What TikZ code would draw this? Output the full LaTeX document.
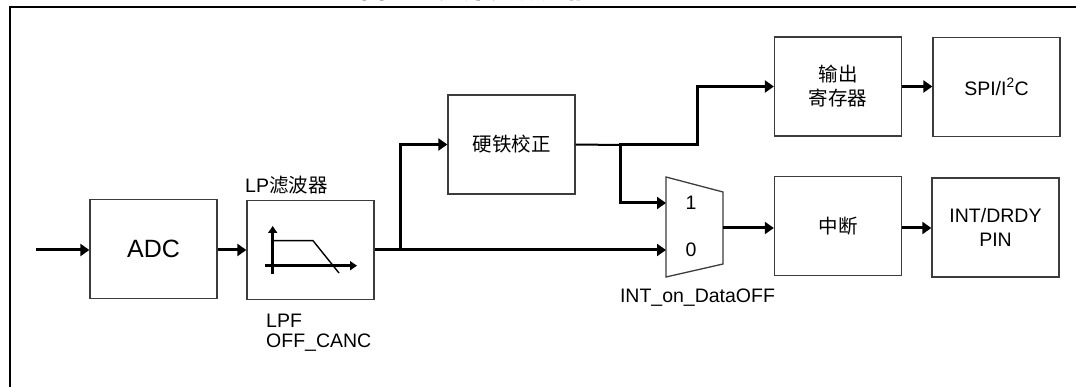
\documentclass[tikz,border=0pt]{standalone}
\usepackage{fontspec}
\setmainfont{Liberation Sans}
\newfontfamily\cjk{Noto Sans CJK SC}
\usepackage{tikz}
\usetikzlibrary{arrows.meta,positioning,calc}
\usepackage{xcolor}
\definecolor{boxcol}{RGB}{60,60,60}
\definecolor{wirecol}{RGB}{0,0,0}
\tikzset{
  % block with a label
  blk/.style={rectangle, draw=boxcol, line width=1.3pt, fill=white,
              minimum width=127pt, minimum height=99pt, inner sep=2pt,
              align=center, font=\fontsize{19.5}{24}\selectfont},
  % signal wire with arrow
  sig/.style={line width=3pt, wirecol, -{Triangle[length=9pt,width=12pt]}},
  % plain wire
  wire/.style={line width=3pt, wirecol},
  % small text label
  lbl/.style={inner sep=0pt, font=\fontsize{19.5}{20.5}\selectfont},
  % axis inside filter icon
  axis/.style={line width=2.6pt, -{Triangle[length=7pt,width=9pt]}},
}

\begin{document}
\begin{tikzpicture}[x=1pt,y=-1pt]
  \useasboundingbox (0,0) rectangle (1076,387);
  % frame and clipped caption
  \draw[line width=2.3pt] (10,395) -- (10,7) -- (1085,7);
  \node[anchor=base, inner sep=0pt, font=\fontsize{24}{24}\selectfont\bfseries] (title) at (472,-1.5)
    {{\cjk 图}2. {\cjk 磁力计滤波链路}};

  % blocks
  \node[blk, font=\fontsize{25}{28}\selectfont] (adc) at (153.5,249) {ADC};
  \node[blk] (lpf) at (310.5,250) {};
  \node[blk] (hic) at (511.5,144.5) {\cjk 硬铁校正};
  \node[blk] (outreg) at (838,86.5) {\cjk 输出\\\cjk 寄存器};
  \node[blk] (spi) at (996.5,87) {SPI/I\textsuperscript{2}C};
  \node[blk] (irq) at (838,226) {\cjk 中断};
  \node[blk] (pin) at (995.5,227.5) {INT/DRDY\\PIN};

  % filter icon
  \draw[axis] (272.7,274) -- (272.7,226);
  \draw[axis] (265,265.7) -- (357,265.7);
  \draw[line width=1.4pt] (272.7,240.7) -- (313,240.7) -- (339,273);

  % labels
  \node[lbl, anchor=base west] (lpname) at (245,193) {LP{\cjk 滤波器}};
  \node[lbl, anchor=base west] (lpfa) at (266,327) {LPF};
  \node[lbl, anchor=base west] (lpfb) at (266,347) {OFF\_CANC};

  % multiplexer
  \draw[line width=1.3pt, boxcol] (666,177) -- (723,192) -- (723,264) -- (666,277) -- cycle;
  \coordinate (mux1) at (666,203);
  \coordinate (mux0) at (666,250);
  \coordinate (muxo) at (723,228);
  \node[lbl] (one) at (691,203) {1};
  \node[lbl] (zero) at (691,250) {0};
  \node[lbl, anchor=base] (muxsel) at (697.5,302) {INT\_on\_DataOFF};

  % connections
  \coordinate (in) at (36,250);
  \coordinate (br1) at (400.7,250);
  \coordinate (br2) at (620,145);
  \coordinate (bend) at (697,145);
  \draw[sig] (in) -- (adc.west |- in);
  \draw[sig] (adc.east |- in) -- (lpf.west |- in);
  \draw[sig] (lpf.east |- mux0) -- (mux0);
  \draw[sig] (br1) |- (hic.west);
  \draw[line width=2pt] (hic.east) -- (br2);
  \draw[sig] (br2) |- (mux1);
  \draw[sig] ($(br2)+(-1,0)$) -- (bend) |- (outreg.west);
  \draw[sig] (muxo) -- (muxo -| irq.west);
  \draw[sig] (outreg.east) -- (spi.west |- outreg.east);
  \draw[sig] (irq.east |- muxo) -- (pin.west |- muxo);
\end{tikzpicture}
\end{document}
